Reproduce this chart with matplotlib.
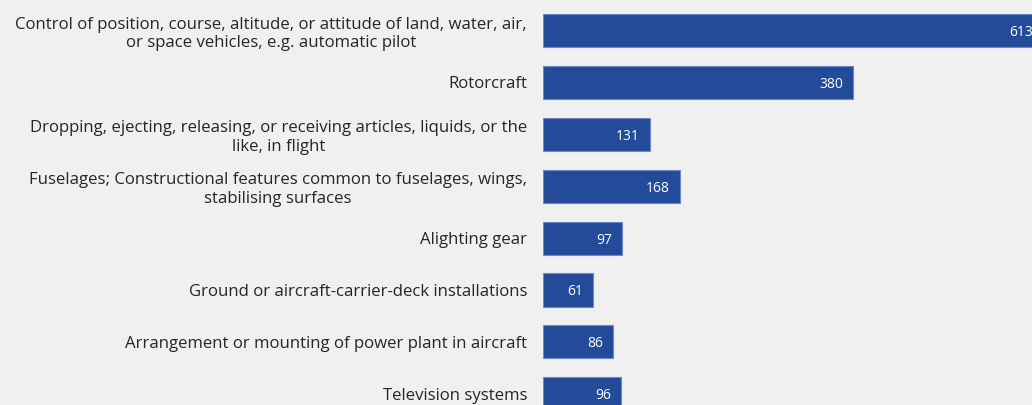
import matplotlib
matplotlib.use("Agg")
import matplotlib.pyplot as plt

# aircraft-related patent classes, counts per class
categories = [
    "Control of position, course, altitude, or attitude of land, water, air,\nor space vehicles, e.g. automatic pilot",
    "Rotorcraft",
    "Dropping, ejecting, releasing, or receiving articles, liquids, or the\nlike, in flight",
    "Fuselages; Constructional features common to fuselages, wings,\nstabilising surfaces",
    "Alighting gear",
    "Ground or aircraft-carrier-deck installations",
    "Arrangement or mounting of power plant in aircraft",
    "Television systems",
]
counts = [613, 380, 131, 168, 97, 61, 86, 96]

BG = "#f0f0f0"
BAR = "#244b9a"
EDGE = "#6d88c2"
TXT = "#262626"

plt.rcParams["font.family"] = ["Open Sans", "DejaVu Sans"]

fig = plt.figure(figsize=(10.32, 4.05), dpi=100, facecolor=BG)
ax = fig.add_axes([543 / 1032, 0, 1 - 543 / 1032, 1], facecolor=BG)

ypos = list(range(len(counts)))
ax.barh(ypos, counts, height=0.636, color=BAR, edgecolor=EDGE, linewidth=0.8)

# 1 px = 1/0.8158 units on x; right edge of figure sits at ~599
ax.set_xlim(0, 599.4)
ax.set_ylim(7.216, -0.588)

px = 1 / 0.8158
for y, v in zip(ypos, counts):
    ax.text(v - 10 * px, y, str(v), ha="right", va="center_baseline",
            color="white", fontsize=10, clip_on=True)

ax.set_yticks(ypos)
ax.set_yticklabels(categories, fontsize=12.1, color=TXT, multialignment="center",
                   linespacing=1.2)
ax.tick_params(axis="y", length=0, pad=11.5)
ax.set_xticks([])
for s in ax.spines.values():
    s.set_visible(False)

fig.savefig("out.png", dpi=100, facecolor=BG)
